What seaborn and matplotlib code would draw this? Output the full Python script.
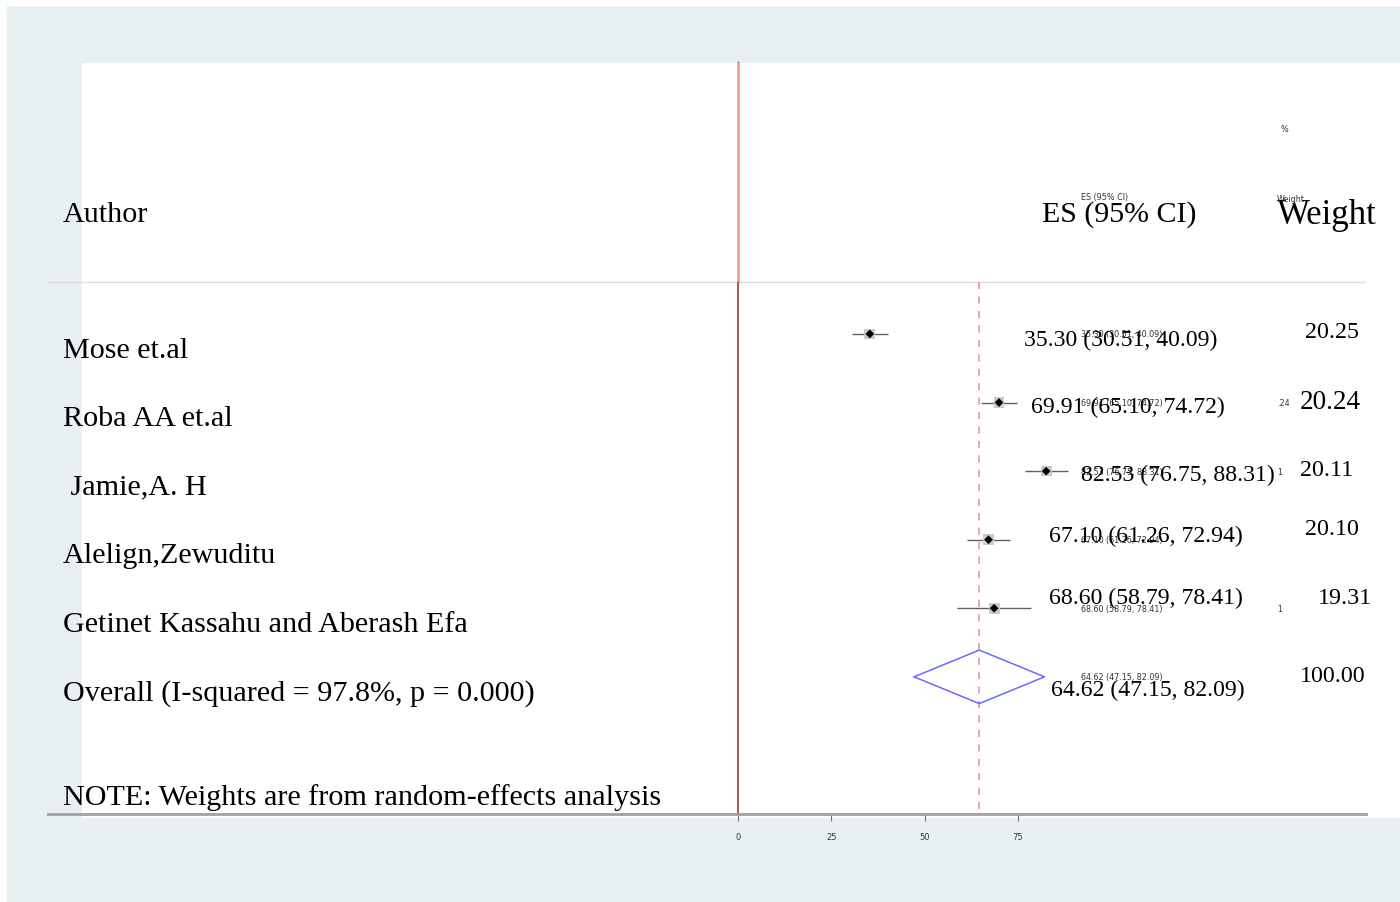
# ==========================================================
# FOREST PLOT (random-effects meta-analysis)
# ==========================================================

import numpy as np
import pandas as pd
import matplotlib
matplotlib.use("Agg")
import matplotlib.pyplot as plt
import seaborn as sns
from matplotlib.patches import Rectangle

# ==========================================================
# DATA
# ==========================================================

authors = [
    "Mose et.al",
    "Roba AA et.al",
    " Jamie,A. H",
    "Alelign,Zewuditu",
    "Getinet Kassahu and Aberash Efa",
]
es = [35.30, 69.91, 82.53, 67.10, 68.60]
lo = [30.51, 65.10, 76.75, 61.26, 58.79]
hi = [40.09, 74.72, 88.31, 72.94, 78.41]
weights = [20.25, 20.24, 20.11, 20.10, 19.31]

overall_label = "Overall (I-squared = 97.8%, p = 0.000)"
overall_es = 64.62
overall_lo = 47.15
overall_hi = 82.09
overall_weight = 100.00

note = "NOTE: Weights are from random-effects analysis"
x_ticks = [0, 25, 50, 75]

df = pd.DataFrame({"author": authors, "es": es, "lo": lo, "hi": hi,
                   "weight": weights})
df["row"] = np.arange(len(df))
overall_row = len(df)

# ==========================================================
# LAYOUT (pixel geometry of the original)
# ==========================================================

W, H = 1400, 903
sns.set_style("white")
plt.rcParams["font.family"] = ["Liberation Serif", "DejaVu Serif"]
plt.rcParams["text.color"] = "black"

fig = plt.figure(figsize=(W / 100, H / 100), dpi=100, facecolor="white")

# outer tinted frame + white plot panel
fig.patches.append(Rectangle((7 / W, 0), 1 - 7 / W, 1 - 7 / H,
                             transform=fig.transFigure, color="#e8f0f2",
                             zorder=-10))
fig.patches.append(Rectangle((82 / W, 1 - 818 / H), 1 - 82 / W,
                             (818 - 64) / H, transform=fig.transFigure,
                             color="white", zorder=-9))

ax = fig.add_axes([48 / W, 1 - 815 / H, (1366 - 48) / W, (815 - 62) / H])
ax.set_facecolor("none")
ax.set_xlim(-184.8, 168.2)
ax.set_ylim(7.0, -3.98)

sep = -0.758

# ==========================================================
# LINES
# ==========================================================

ax.axhline(sep, color="#dddddd", lw=1, zorder=1)
ax.vlines(0, -3.98, sep, color="#f29a9a", lw=2, zorder=2)
ax.vlines(0, sep, 7.0, color="#8a2a2a", lw=1.1, zorder=2)
ax.vlines(overall_es, sep, 7.0, color="#e0a4ab", lw=1.3,
          linestyles=(0, (4, 4)), zorder=2)

# confidence intervals
ax.hlines(df["row"], df["lo"], df["hi"], color="#606060", lw=1, zorder=3)

# weight boxes + point estimates
sns.scatterplot(data=df, x="es", y="row", marker="s", s=60,
                color="#cacaca", edgecolor="none", ax=ax, zorder=4)
sns.scatterplot(data=df, x="es", y="row", marker="D", s=20,
                color="black", edgecolor="none", ax=ax, zorder=5)

# pooled estimate diamond
dh = 0.39
ax.plot([overall_lo, overall_es, overall_hi, overall_es, overall_lo],
        [overall_row, overall_row - dh, overall_row, overall_row + dh,
         overall_row], color="#6a6aff", lw=1.1, zorder=5)

# ==========================================================
# AXIS
# ==========================================================

for side in ["top", "left", "right"]:
    ax.spines[side].set_visible(False)
ax.spines["bottom"].set_color("#a0a0a0")
ax.spines["bottom"].set_linewidth(2)
ax.set_yticks([])
ax.set_xticks(x_ticks)
ax.set_xticklabels([str(t) for t in x_ticks], family="DejaVu Sans",
                   fontsize=6, color="#333333")
ax.tick_params(axis="x", direction="out", length=5, width=0.8,
               color="#777777", pad=8, bottom=True)
ax.set_xlabel("")
ax.set_ylabel("")

# ==========================================================
# TEXT COLUMNS
# ==========================================================

author_x = -180.8
es_x = [76.6, 78.5, 91.9, 83.3, 83.3, 83.8]
es_off = [0.16, 0.14, 0.13, 0.02, -0.08, 0.26]
w_x = [151.9, 150.5, 150.5, 151.9, 155.4, 150.5]
w_off = [0.04, 0.08, 0.05, -0.08, -0.08, 0.06]
w_size = [17.3, 19.5, 17.3, 17.3, 17.3, 17.3]
small_x = 91.9
small_kw = dict(family="DejaVu Sans", fontsize=5.8, color="#333333",
                va="center", clip_on=False)

labels = authors + [overall_label]
all_es = es + [overall_es]
all_lo = lo + [overall_lo]
all_hi = hi + [overall_hi]
all_w = weights + [overall_weight]

ax.text(author_x, -1.65, "Author", fontsize=21.7, va="baseline",
        clip_on=False)
ax.text(81.4, -1.65, "ES (95% CI)", fontsize=21.5, va="baseline",
        clip_on=False)
ax.text(144.4, -1.62, "Weight", fontsize=25, va="baseline",
        clip_on=False)
ax.text(small_x, -2.0, "ES (95% CI)", **small_kw)
ax.text(144.4, -1.98, "Weight", **small_kw)
ax.text(145.2, -2.99, "%", **small_kw)

for i, lab in enumerate(labels):
    ci_txt = f"{all_es[i]:.2f} ({all_lo[i]:.2f}, {all_hi[i]:.2f})"
    ax.text(author_x, i + 0.33, lab, fontsize=21.7, va="baseline",
            clip_on=False)
    ax.text(small_x, i, ci_txt, zorder=6, **small_kw)
    ax.text(es_x[i], i + es_off[i], ci_txt, fontsize=17.1,
            va="baseline", clip_on=False, zorder=7)
    ax.text(w_x[i], i + w_off[i], f"{all_w[i]:.2f}", fontsize=w_size[i],
            va="baseline", clip_on=False)

# fragments of the small weight column peeking through
for r, frag in [(1, ".24"), (2, "1"), (4, "1")]:
    ax.text(144.4, r, frag, **small_kw)

ax.text(author_x, 6.85, note, fontsize=21.7, va="baseline", clip_on=False)

fig.savefig("out.png", dpi=100, facecolor=fig.get_facecolor())
